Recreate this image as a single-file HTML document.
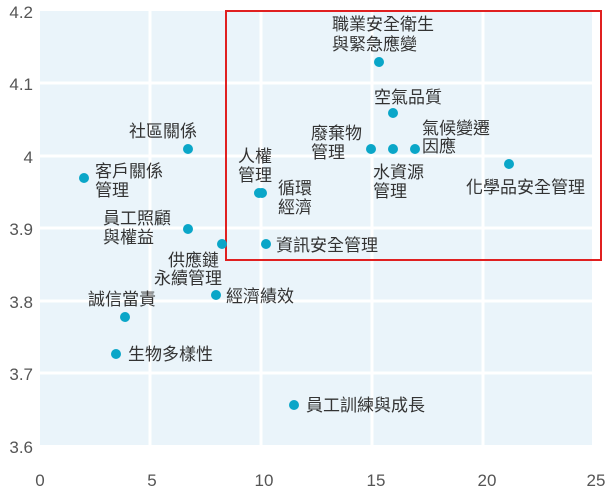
<!DOCTYPE html>
<html><head><meta charset="utf-8"><style>
body{margin:0;background:#fff}
svg text{font-family:"Liberation Sans","Noto Sans CJK TC",sans-serif}
</style></head><body>
<svg width="613" height="499" xmlns="http://www.w3.org/2000/svg">
<rect x="40" y="11" width="552" height="434" fill="#eaf4fa"/>
<g stroke="#fff" stroke-width="3">
<line x1="150" y1="11" x2="150" y2="445"/><line x1="261" y1="11" x2="261" y2="445"/>
<line x1="372" y1="11" x2="372" y2="445"/><line x1="483" y1="11" x2="483" y2="445"/>
<line x1="40" y1="83" x2="592" y2="83"/><line x1="40" y1="156" x2="592" y2="156"/>
<line x1="40" y1="228" x2="592" y2="228"/><line x1="40" y1="301" x2="592" y2="301"/>
<line x1="40" y1="373" x2="592" y2="373"/>
</g>
<g fill="#555" font-size="17" text-anchor="end">
<text x="33" y="18">4.2</text><text x="33" y="90">4.1</text><text x="33" y="163">4</text>
<text x="33" y="235">3.9</text><text x="33" y="308">3.8</text><text x="33" y="380">3.7</text><text x="33" y="453">3.6</text>
</g>
<g fill="#555" font-size="17" text-anchor="middle">
<text x="40" y="486">0</text><text x="152" y="486">5</text><text x="264" y="486">10</text>
<text x="376" y="486">15</text><text x="487" y="486">20</text><text x="596" y="486">25</text>
</g>
<rect x="226" y="11" width="375" height="249" fill="none" stroke="#e02020" stroke-width="2"/>
<g fill="#0aa6c8">
<circle cx="379" cy="62" r="5"/><circle cx="393" cy="113" r="5"/><circle cx="371" cy="149" r="5"/>
<circle cx="393" cy="149" r="5"/><circle cx="415" cy="149" r="5"/><circle cx="509" cy="164" r="5"/>
<circle cx="188" cy="149" r="5"/><circle cx="84" cy="178" r="5"/><circle cx="259" cy="193" r="5"/>
<circle cx="262" cy="193" r="5"/><circle cx="188" cy="229" r="5"/><circle cx="222" cy="244" r="5"/>
<circle cx="266" cy="244" r="5"/><circle cx="216" cy="295" r="5"/><circle cx="125" cy="317" r="5"/>
<circle cx="116" cy="354" r="5"/><circle cx="294" cy="405" r="5"/>
</g>
<g fill="#333" font-size="17">
<text x="332" y="30">職業安全衛生</text><text x="332" y="50">與緊急應變</text>
<text x="374" y="103">空氣品質</text>
<text x="311" y="139">廢棄物</text><text x="311" y="158">管理</text>
<text x="422" y="134">氣候變遷</text><text x="422" y="152">因應</text>
<text x="373" y="178">水資源</text><text x="373" y="197">管理</text>
<text x="466" y="193">化學品安全管理</text>
<text x="129" y="137">社區關係</text>
<text x="95" y="177">客戶關係</text><text x="95" y="196">管理</text>
<text x="238" y="162">人權</text><text x="238" y="181">管理</text>
<text x="278" y="194">循環</text><text x="278" y="213">經濟</text>
<text x="103" y="224">員工照顧</text><text x="103" y="243">與權益</text>
<text x="276" y="251">資訊安全管理</text>
<text x="168" y="266">供應鏈</text><text x="154" y="284">永續管理</text>
<text x="226" y="302">經濟績效</text>
<text x="88" y="305">誠信當責</text>
<text x="128" y="360">生物多樣性</text>
<text x="306" y="411">員工訓練與成長</text>
</g>
</svg>
</body></html>
